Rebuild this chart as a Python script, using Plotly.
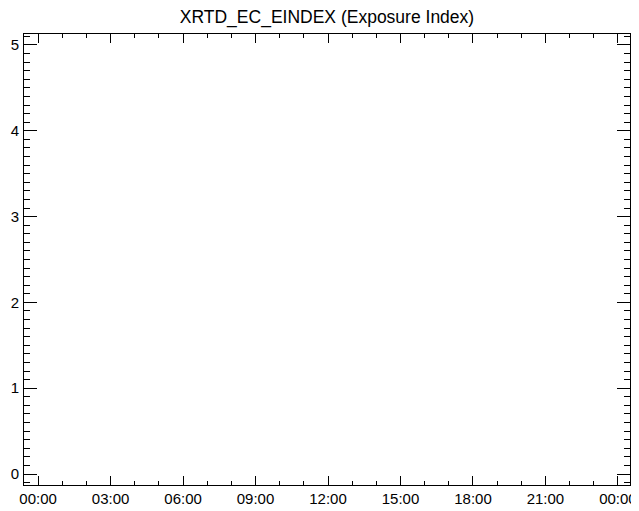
import plotly.graph_objects as go

# Data (the reference plot contains no data points)
times = []          # timestamps
eindex = []         # exposure index values
date_label = "20100325"
day_start = "2010-03-25 00:00:00"
x_range = ["2010-03-24 23:25:00", "2010-03-26 00:30:00"]
y_range = [-0.128, 5.128]
x_tick_vals = ["2010-03-25 00:00", "2010-03-25 03:00", "2010-03-25 06:00",
               "2010-03-25 09:00", "2010-03-25 12:00", "2010-03-25 15:00",
               "2010-03-25 18:00", "2010-03-25 21:00", "2010-03-26 00:00"]
x_tick_text = ["00:00", "03:00", "06:00", "09:00", "12:00", "15:00",
               "18:00", "21:00", "00:00"]
y_tick_vals = [0, 1, 2, 3, 4, 5]

fig = go.Figure()
fig.add_trace(go.Scatter(x=times, y=eindex, mode="lines",
                         line=dict(color="black", width=1), showlegend=False))

font = "Liberation Sans, Arial, Helvetica, sans-serif"

# page body has an 8px margin, so the figure is sized to fit the window
fig.update_layout(
    width=631, height=503,
    margin=dict(l=16, r=9, t=26, b=26),
    paper_bgcolor="white", plot_bgcolor="white",
    font=dict(family=font, size=15, color="black"),
    title=dict(text="XRTD_EC_EINDEX (Exposure Index)", x=0.5055, xanchor="center",
               y=0.983, yanchor="middle", font=dict(family=font, size=17.5, color="black")),
    showlegend=False,
    xaxis=dict(
        type="date", range=x_range, automargin=False,
        tickmode="array", tickvals=x_tick_vals, ticktext=x_tick_text,
        ticks="inside", ticklen=9, tickwidth=1, tickcolor="black",
        showline=True, linecolor="black", linewidth=1, mirror="ticks",
        showgrid=False, zeroline=False,
        tickfont=dict(family=font, size=15, color="black"),
        minor=dict(ticks="inside", ticklen=4, tickwidth=1, tickcolor="black",
                   dtick=3600000, tick0=day_start, showgrid=False),
    ),
    yaxis=dict(
        range=y_range, tickmode="array", tickvals=y_tick_vals, automargin=False,
        ticks="inside", ticklen=13, tickwidth=1, tickcolor="black",
        showline=True, linecolor="black", linewidth=1, mirror="ticks",
        showgrid=False, zeroline=False,
        tickfont=dict(family=font, size=15, color="black"),
        ticklabelstandoff=1,
        minor=dict(ticks="inside", ticklen=6, tickwidth=1, tickcolor="black",
                   dtick=0.1, tick0=0, showgrid=False),
    ),
    annotations=[dict(text=date_label, xref="paper", yref="paper", x=0.5, y=0,
                      yshift=-21, xanchor="center", yanchor="top", showarrow=False,
                      font=dict(family=font, size=15, color="black"))],
)

fig.write_html("out.html")
